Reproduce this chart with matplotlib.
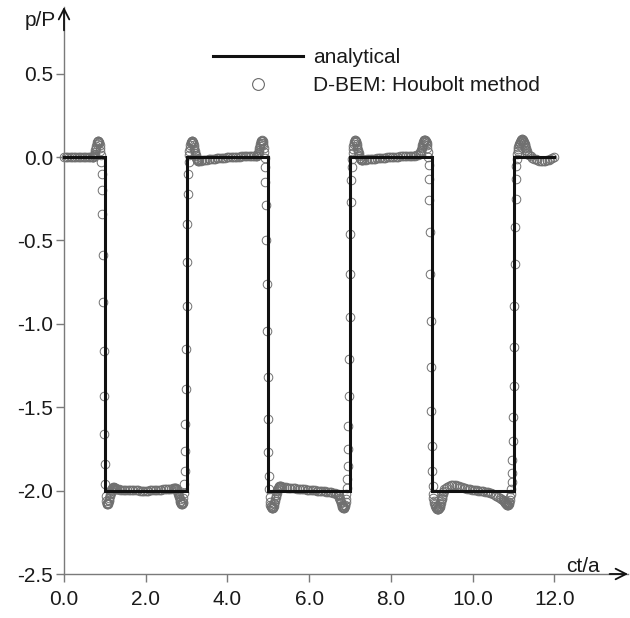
import numpy as np
import matplotlib
matplotlib.use("Agg")
import matplotlib.pyplot as plt
from matplotlib.lines import Line2D

plt.rcParams['font.family'] = ['Liberation Sans', 'DejaVu Sans']

# ---------------- data ----------------
# analytical square wave (ct/a, p/P)
ana_t = [0, 1, 1, 3, 3, 5, 5, 7, 7, 9, 9, 11, 11, 12]
ana_p = [0, 0, -2, -2, 0, 0, -2, -2, 0, 0, -2, -2, 0, 0]

# D-BEM (Houbolt) samples: each segment = start time, time step, values
flat0 = [0.000, 0.000, 0.000, 0.000, 0.000, 0.000, 0.000, 0.000, 0.000,
         0.000, 0.000, 0.000, 0.000, 0.000, 0.000, 0.000, 0.000, 0.000]
drop1 = [0.000, 0.001, 0.003, 0.007, 0.013, 0.021, 0.031, 0.043, 0.056, 0.069,
         0.080, 0.089, 0.095, 0.098, 0.097, 0.093, 0.085, 0.073, 0.057, 0.036,
         0.010, -0.030, -0.100, -0.200, -0.340, -0.590, -0.870, -1.160, -1.430, -1.660,
         -1.840, -1.960, -2.030, -2.060, -2.075, -2.082, -2.083, -2.080, -2.074, -2.065,
         -2.055, -2.044, -2.033, -2.022, -2.012, -2.004, -1.997, -1.991, -1.987, -1.984,
         -1.982, -1.981, -1.981, -1.982, -1.983, -1.985, -1.987, -1.989, -1.990, -1.991,
         -1.992]
low1 = [-1.993, -1.994, -1.995, -1.996, -1.996, -1.997, -1.997, -1.998, -1.998, -1.998,
        -1.999, -1.999, -1.999, -2.000, -2.000, -2.000, -2.000, -2.000, -2.000, -1.999,
        -1.999, -1.998, -1.998, -1.997, -1.996, -1.995, -1.994, -1.993, -1.992, -1.991,
        -1.990, -1.989, -1.988, -1.987]
rise1 = [-1.986, -1.985, -1.985, -1.986, -1.988, -1.991, -1.995, -2.000, -2.006, -2.013,
         -2.021, -2.030, -2.040, -2.050, -2.060, -2.069, -2.076, -2.081, -2.083, -2.082,
         -2.077, -2.066, -2.046, -2.012, -1.960, -1.880, -1.760, -1.600, -1.390, -1.150,
         -0.890, -0.630, -0.400, -0.220, -0.100, -0.030, 0.010, 0.036, 0.056, 0.072,
         0.084, 0.092, 0.097, 0.099, 0.097, 0.092, 0.084, 0.074, 0.062, 0.049,
         0.036, 0.024, 0.013, 0.004, -0.004, -0.010, -0.015, -0.019, -0.021, -0.022,
         -0.022]
high2 = [-0.021, -0.020, -0.019, -0.017, -0.016, -0.014, -0.013, -0.012, -0.010, -0.009,
         -0.008, -0.007, -0.006, -0.005, -0.004, -0.003, -0.002, -0.001, 0.000, 0.000,
         0.001, 0.002, 0.002, 0.003, 0.003, 0.004, 0.004, 0.005, 0.005, 0.005,
         0.006, 0.006, 0.006, 0.006]
drop2 = [0.006, 0.007, 0.009, 0.012, 0.017, 0.023, 0.031, 0.041, 0.052, 0.064,
         0.076, 0.086, 0.094, 0.099, 0.101, 0.099, 0.094, 0.085, 0.072, 0.054,
         0.030, -0.005, -0.060, -0.150, -0.290, -0.500, -0.760, -1.040, -1.320, -1.570,
         -1.770, -1.910, -1.990, -2.040, -2.068, -2.084, -2.094, -2.100, -2.104, -2.106,
         -2.106, -2.104, -2.099, -2.092, -2.083, -2.073, -2.062, -2.050, -2.038, -2.026,
         -2.015, -2.005, -1.996, -1.989, -1.983, -1.979, -1.976, -1.974, -1.973, -1.973,
         -1.974]
low2 = [-1.976, -1.978, -1.980, -1.982, -1.983, -1.984, -1.985, -1.986, -1.987, -1.988,
        -1.989, -1.990, -1.991, -1.992, -1.993, -1.994, -1.995, -1.996, -1.997, -1.998,
        -1.999, -2.000, -2.001, -2.002, -2.003, -2.004, -2.005, -2.006, -2.007, -2.008,
        -2.010, -2.012, -2.015, -2.019]
rise2 = [-2.020, -2.024, -2.029, -2.035, -2.042, -2.050, -2.058, -2.067, -2.076, -2.084,
         -2.091, -2.097, -2.101, -2.104, -2.105, -2.104, -2.100, -2.094, -2.084, -2.070,
         -2.050, -2.022, -1.983, -1.930, -1.855, -1.750, -1.610, -1.430, -1.210, -0.960,
         -0.700, -0.460, -0.270, -0.140, -0.060, -0.010, 0.022, 0.046, 0.065, 0.080,
         0.091, 0.098, 0.101, 0.100, 0.096, 0.089, 0.080, 0.069, 0.057, 0.045,
         0.033, 0.022, 0.012, 0.004, -0.003, -0.008, -0.012, -0.015, -0.016, -0.017,
         -0.017]
high3 = [-0.016, -0.015, -0.014, -0.013, -0.012, -0.011, -0.010, -0.009, -0.008, -0.007,
         -0.006, -0.005, -0.004, -0.003, -0.002, -0.001, 0.000, 0.001, 0.001, 0.002,
         0.003, 0.003, 0.004, 0.004, 0.005, 0.005, 0.006, 0.006, 0.007, 0.007,
         0.008, 0.009, 0.011, 0.014]
drop3 = [0.018, 0.023, 0.029, 0.036, 0.044, 0.053, 0.062, 0.071, 0.080, 0.088,
         0.095, 0.100, 0.103, 0.104, 0.103, 0.099, 0.093, 0.084, 0.072, 0.055,
         0.032, 0.000, -0.050, -0.130, -0.260, -0.450, -0.700, -0.980, -1.260, -1.520,
         -1.730, -1.880, -1.975, -2.020, -2.045, -2.062, -2.074, -2.083, -2.090, -2.096,
         -2.101, -2.105, -2.108, -2.110, -2.111, -2.111, -2.110, -2.107, -2.103, -2.098,
         -2.091, -2.083, -2.074, -2.064, -2.053, -2.042, -2.031, -2.020, -2.010, -2.001,
         -1.993]
low3 = [-1.986, -1.979, -1.973, -1.969, -1.967, -1.967, -1.969, -1.972, -1.975, -1.978,
        -1.981, -1.984, -1.986, -1.988, -1.990, -1.992, -1.994, -1.995, -1.997, -1.998,
        -2.000, -2.001, -2.003, -2.004, -2.006, -2.008, -2.010, -2.013, -2.016, -2.020,
        -2.025, -2.031, -2.038, -2.046, -2.050]
rise3 = [-2.056, -2.059, -2.062, -2.065, -2.068, -2.071, -2.074, -2.077, -2.080, -2.082,
         -2.084, -2.085, -2.085, -2.084, -2.081, -2.076, -2.068, -2.056, -2.040, -2.018,
         -1.988, -1.948, -1.893, -1.815, -1.705, -1.560, -1.370, -1.140, -0.890, -0.640,
         -0.420, -0.250, -0.130, -0.055, -0.010, 0.018, 0.036, 0.050, 0.062, 0.072,
         0.080, 0.087, 0.093, 0.098, 0.102, 0.105, 0.106, 0.106, 0.105, 0.102,
         0.098, 0.093, 0.087, 0.080, 0.072, 0.063, 0.054, 0.045, 0.036, 0.027,
         0.019]
high4 = [0.011, 0.004, -0.003, -0.009, -0.014, -0.018, -0.021, -0.023, -0.024, -0.024,
         -0.022, -0.019, -0.015, -0.011, -0.006, -0.002]

segments = [
    (0.00, 0.04, flat0),
    (0.70, 0.01, drop1),
    (1.34, 0.04, low1),
    (2.70, 0.01, rise1),
    (3.34, 0.04, high2),
    (4.70, 0.01, drop2),
    (5.34, 0.04, low2),
    (6.70, 0.01, rise2),
    (7.34, 0.04, high3),
    (8.70, 0.01, drop3),
    (9.34, 0.04, low3),
    (10.74, 0.01, rise3),
    (11.38, 0.04, high4),
]
bem_t = np.concatenate([t0 + dt * np.arange(len(v)) for t0, dt, v in segments])
bem_p = np.concatenate([np.asarray(v, float) for _, _, v in segments])

x_ticks = [0, 2, 4, 6, 8, 10, 12]
x_labels = ["0.0", "2.0", "4.0", "6.0", "8.0", "10.0", "12.0"]
y_ticks = [0.5, 0.0, -0.5, -1.0, -1.5, -2.0, -2.5]
y_labels = ["0.5", "0.0", "-0.5", "-1.0", "-1.5", "-2.0", "-2.5"]

# ---------------- figure ----------------
W, H = 630, 618
fig = plt.figure(figsize=(W / 100, H / 100), dpi=100)
ax = fig.add_axes([64 / W, (H - 574) / H, (628 - 64) / W, (574 - 7) / H])
ax.set_xlim(0, 13.8)
ax.set_ylim(-2.5, 0.9)

axis_col = '#7a7a7a'
txt_col = '#1a1a1a'

ax.plot(bem_t, bem_p, linestyle='none', marker='o', markersize=6.2,
        markerfacecolor='none', markeredgecolor='#707070', markeredgewidth=0.7,
        clip_on=False, zorder=2)
ax.plot(ana_t, ana_p, color='#111111', linewidth=2.2, solid_joinstyle='miter',
        zorder=3, clip_on=False)

for s in ['top', 'right']:
    ax.spines[s].set_visible(False)
for s in ['left', 'bottom']:
    ax.spines[s].set_color(axis_col)
    ax.spines[s].set_linewidth(1.0)

ax.set_xticks(x_ticks)
ax.set_xticklabels(x_labels)
ax.set_yticks(y_ticks)
ax.set_yticklabels(y_labels)
ax.tick_params(axis='both', direction='out', length=5.5, width=1.0, color=axis_col,
               labelsize=15, labelcolor=txt_col)
ax.tick_params(axis='y', pad=2.5)
ax.tick_params(axis='x', pad=6)

# arrow heads
arrow_style = '->,head_length=0.75,head_width=0.38'
ax.annotate('', xy=(13.8, -2.5), xytext=(13.35, -2.5), xycoords='data',
            arrowprops=dict(arrowstyle=arrow_style,
                            color='#111111', lw=1.3, shrinkA=0, shrinkB=0),
            annotation_clip=False)
ax.annotate('', xy=(0, 0.9), xytext=(0, 0.76), xycoords='data',
            arrowprops=dict(arrowstyle=arrow_style,
                            color='#111111', lw=1.3, shrinkA=0, shrinkB=0),
            annotation_clip=False)

fig.text(40 / W, 1 - 20 / H, 'p/P', fontsize=15, color=txt_col, ha='center', va='center')
fig.text(583 / W, 1 - 566 / H, 'ct/a', fontsize=15, color=txt_col, ha='center', va='center')

handles = [Line2D([], [], color='#111111', linewidth=2.2),
           Line2D([], [], linestyle='none', marker='o', markersize=8.5,
                  markerfacecolor='none', markeredgecolor='#6a6a6a', markeredgewidth=0.8)]
leg = ax.legend(handles, ['analytical', 'D-BEM: Houbolt method'],
                loc='upper left', bbox_to_anchor=(213 / W, 1 - 48 / H),
                bbox_transform=fig.transFigure, frameon=False, fontsize=15,
                handlelength=4.33, handletextpad=0.48, labelspacing=0.45,
                borderpad=0, borderaxespad=0)
for t in leg.get_texts():
    t.set_color(txt_col)

fig.savefig('out.png', dpi=100)
